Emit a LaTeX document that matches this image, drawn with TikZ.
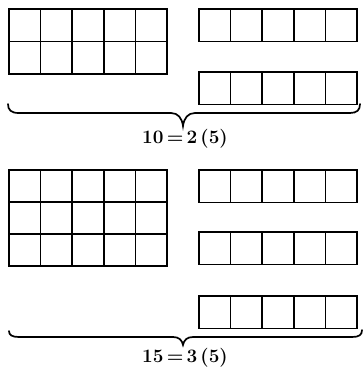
\documentclass[tikz,border=0pt]{standalone}

\begin{document}
\begin{tikzpicture}[
    x=1pt, y=-1pt,
    cell/.style={draw=black, line width=1.5pt},
    groupbrace/.style={draw=black, line width=1.7pt, line cap=round},
    sumlabel/.style={font=\fontsize{19}{21}\selectfont\bfseries, inner sep=0pt},
]
\useasboundingbox (0,0) rectangle (363,367);

% Upper group: 2 rows of 5
\foreach \r in {0,1}
  \foreach \c in {0,...,4}
    \draw[cell] (9+\c*31.6, 9+\r*32.5) rectangle ++(31.6, 32.5);
\foreach \y in {9, 72}
  \foreach \c in {0,...,4}
    \draw[cell] (199+\c*31.6, \y) rectangle ++(31.6, 32.5);

\draw[groupbrace] (8,104) .. controls (8,110) and (11,113) .. (19,113)
    -- (171,113) .. controls (178,113) and (182,118) .. (183,126)
    .. controls (184,118) and (188,113) .. (195,113)
    -- (350,113) .. controls (357,113) and (360,110) .. (360,104);
\node[sumlabel] (ten) at (185,139) {10\,=\,2\,(5)};

% Lower group: 3 rows of 5
\foreach \r in {0,1,2}
  \foreach \c in {0,...,4}
    \draw[cell] (9+\c*31.6, 170+\r*32) rectangle ++(31.6, 32);
\foreach \y in {170, 232, 296}
  \foreach \c in {0,...,4}
    \draw[cell] (199+\c*31.6, \y) rectangle ++(31.6, 32.5);

\draw[groupbrace] (9,331) .. controls (9,335) and (12,337) .. (19,337)
    -- (173,337) .. controls (179,337) and (182,340) .. (183,345)
    .. controls (184,340) and (187,337) .. (193,337)
    -- (352,337) .. controls (359,337) and (362,335) .. (362,330);
\node[sumlabel] (fifteen) at (185,358) {15\,=\,3\,(5)};

\end{tikzpicture}
\end{document}
